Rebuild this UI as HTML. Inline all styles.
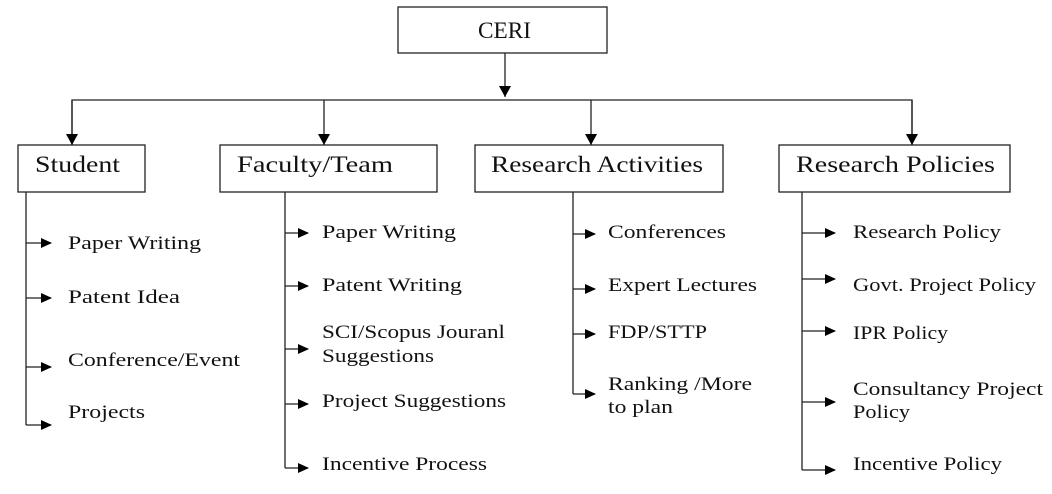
<!DOCTYPE html>
<html><head><meta charset="utf-8"><style>
html,body{margin:0;padding:0;background:#fff;}
svg{display:block;}
text{font-family:"Liberation Serif",serif;fill:#111;}
.b{font-size:23px;}
.i{font-size:19px;}
</style></head><body>
<svg width="1052" height="494" viewBox="0 0 1052 494" xmlns="http://www.w3.org/2000/svg">
<defs><marker id="a" markerWidth="11" markerHeight="10" refX="10" refY="5" orient="auto" markerUnits="userSpaceOnUse"><path d="M0,0 L11,5 L0,10 z" fill="#000"/></marker>
<marker id="d" markerWidth="12" markerHeight="12" refX="11" refY="6" orient="auto" markerUnits="userSpaceOnUse"><path d="M0,0 L11,6 L0,12 z" fill="#000"/></marker></defs>
<g stroke="#222" stroke-width="1.3" fill="none">
<rect x="398" y="7" width="209" height="46"/>
<rect x="18" y="145" width="127" height="47"/>
<rect x="220" y="145" width="217" height="47"/>
<rect x="475" y="145" width="248" height="47"/>
<rect x="779" y="145" width="231" height="47"/>
<line x1="505" y1="53" x2="505" y2="97" marker-end="url(#d)"/>
<polyline points="72,145 72,100 912,100 912,145"/>
<line x1="72" y1="100" x2="72" y2="145" marker-end="url(#d)"/>
<line x1="324" y1="100" x2="324" y2="145" marker-end="url(#d)"/>
<line x1="591" y1="100" x2="591" y2="145" marker-end="url(#d)"/>
<line x1="912" y1="100" x2="912" y2="145" marker-end="url(#d)"/>
<line x1="26" y1="192" x2="26" y2="425"/>
<line x1="285" y1="192" x2="285" y2="468"/>
<line x1="573" y1="192" x2="573" y2="394"/>
<line x1="802" y1="192" x2="802" y2="470"/>
<g marker-end="url(#a)">
<line x1="26" y1="243" x2="51" y2="243"/><line x1="26" y1="298" x2="51" y2="298"/><line x1="26" y1="367" x2="51" y2="367"/><line x1="26" y1="425" x2="51" y2="425"/>
<line x1="285" y1="233" x2="308" y2="233"/><line x1="285" y1="286" x2="308" y2="286"/><line x1="285" y1="349" x2="308" y2="349"/><line x1="285" y1="404" x2="308" y2="404"/><line x1="285" y1="468" x2="308" y2="468"/>
<line x1="573" y1="234" x2="595" y2="234"/><line x1="573" y1="289" x2="595" y2="289"/><line x1="573" y1="334" x2="595" y2="334"/><line x1="573" y1="394" x2="595" y2="394"/>
<line x1="802" y1="233" x2="835" y2="233"/><line x1="802" y1="279" x2="835" y2="279"/><line x1="802" y1="331" x2="835" y2="331"/><line x1="802" y1="402" x2="835" y2="402"/><line x1="802" y1="470" x2="835" y2="470"/>
</g></g>
<text class="b" x="478" y="38" textLength="53" lengthAdjust="spacingAndGlyphs">CERI</text>
<text class="b" x="35" y="172" textLength="85" lengthAdjust="spacingAndGlyphs">Student</text>
<text class="b" x="237" y="172" textLength="156" lengthAdjust="spacingAndGlyphs">Faculty/Team</text>
<text class="b" x="491" y="172" textLength="212" lengthAdjust="spacingAndGlyphs">Research Activities</text>
<text class="b" x="796" y="172" textLength="199" lengthAdjust="spacingAndGlyphs">Research Policies</text>
<g lengthAdjust="spacingAndGlyphs">
<text class="i" x="68" y="249" textLength="133" lengthAdjust="spacingAndGlyphs">Paper Writing</text>
<text class="i" x="68" y="303" textLength="112" lengthAdjust="spacingAndGlyphs">Patent Idea</text>
<text class="i" x="68" y="366" textLength="172" lengthAdjust="spacingAndGlyphs">Conference/Event</text>
<text class="i" x="68" y="418" textLength="77" lengthAdjust="spacingAndGlyphs">Projects</text>
<text class="i" x="322" y="238" textLength="134" lengthAdjust="spacingAndGlyphs">Paper Writing</text>
<text class="i" x="322" y="291" textLength="140" lengthAdjust="spacingAndGlyphs">Patent Writing</text>
<text class="i" x="322" y="338" textLength="183" lengthAdjust="spacingAndGlyphs">SCI/Scopus Jouranl</text>
<text class="i" x="322" y="362" textLength="112" lengthAdjust="spacingAndGlyphs">Suggestions</text>
<text class="i" x="322" y="407" textLength="184" lengthAdjust="spacingAndGlyphs">Project Suggestions</text>
<text class="i" x="322" y="470" textLength="165" lengthAdjust="spacingAndGlyphs">Incentive Process</text>
<text class="i" x="608" y="238" textLength="118" lengthAdjust="spacingAndGlyphs">Conferences</text>
<text class="i" x="608" y="291" textLength="149" lengthAdjust="spacingAndGlyphs">Expert Lectures</text>
<text class="i" x="608" y="338" textLength="99" lengthAdjust="spacingAndGlyphs">FDP/STTP</text>
<text class="i" x="608" y="390" textLength="144" lengthAdjust="spacingAndGlyphs">Ranking /More</text>
<text class="i" x="608" y="413" textLength="65" lengthAdjust="spacingAndGlyphs">to plan</text>
<text class="i" x="853" y="238" textLength="148" lengthAdjust="spacingAndGlyphs">Research Policy</text>
<text class="i" x="853" y="291" textLength="183" lengthAdjust="spacingAndGlyphs">Govt. Project Policy</text>
<text class="i" x="853" y="339" textLength="95" lengthAdjust="spacingAndGlyphs">IPR Policy</text>
<text class="i" x="853" y="395" textLength="190" lengthAdjust="spacingAndGlyphs">Consultancy Project</text>
<text class="i" x="853" y="418" textLength="57" lengthAdjust="spacingAndGlyphs">Policy</text>
<text class="i" x="853" y="470" textLength="149" lengthAdjust="spacingAndGlyphs">Incentive Policy</text>
</g>
</svg>
</body></html>
